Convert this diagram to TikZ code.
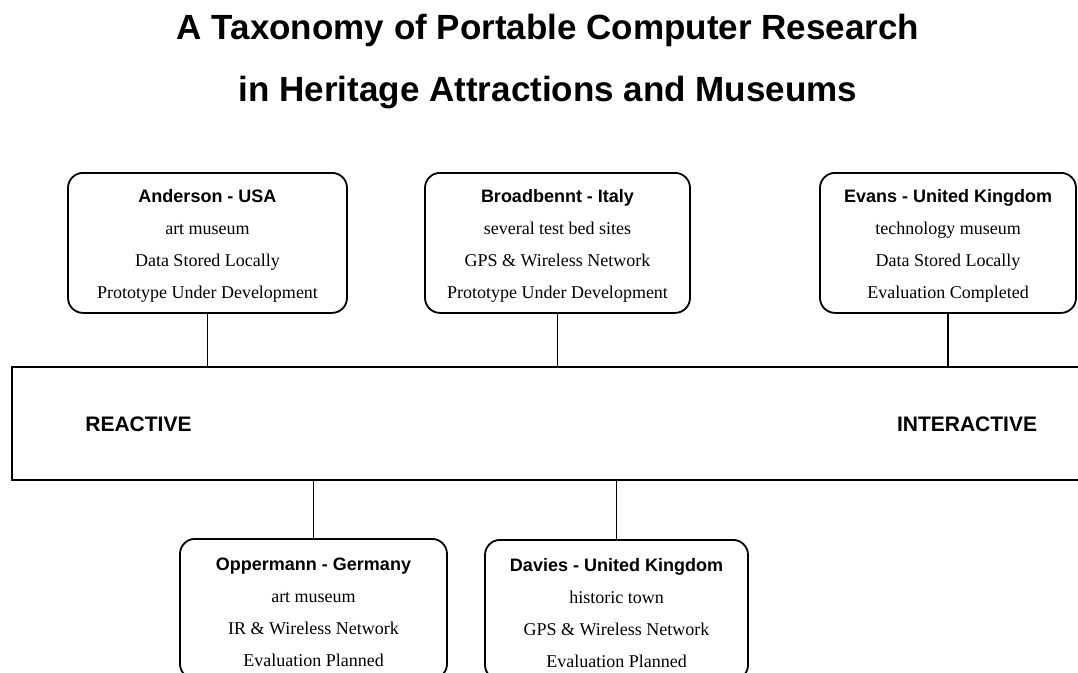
\documentclass[tikz,border=0pt]{standalone}
\usepackage{fontspec}
\setmainfont{Liberation Serif}
\setsansfont{Liberation Sans}
\newcommand{\sitehead}[1]{\rule{0pt}{20pt}{\sffamily\bfseries #1}}

\begin{document}
\begin{tikzpicture}[x=1pt,y=-1pt,
		site/.style={draw,rounded corners=15pt,line width=1.8pt,align=center,inner sep=0pt,minimum height=140pt,anchor=north,font=\fontsize{18}{32}\selectfont},
		heading/.style={anchor=base,inner sep=0pt,font=\fontsize{35}{40}\selectfont\sffamily\bfseries},
		pole/.style={anchor=base,inner sep=0pt,font=\fontsize{21}{25}\selectfont\sffamily\bfseries},
		link/.style={line width=1.8pt}]
			\useasboundingbox (0,0) rectangle (1078,672);
			\node[heading] (title1) at (548,39) {A Taxonomy of Portable Computer Research};
			\node[heading] (title2) at (548,101) {in Heritage Attractions and Museums};
	
			\node[draw,line width=1.8pt,minimum width=1100pt,minimum height=113pt,anchor=north west] (bar) at (11,366) {};
			\node[pole] (reactive) at (138.5,431) {REACTIVE};
			\node[pole] (interactive) at (967,431) {INTERACTIVE};
	
			\node[site,minimum width=279pt] (anderson) at (207.5,172) {\sitehead{Anderson - USA}\\art museum\\Data Stored Locally\\Prototype Under Development};
			\node[site,minimum width=265pt] (broadbennt) at (557.5,172) {\sitehead{Broadbennt - Italy}\\several test bed sites\\GPS \& Wireless Network\\Prototype Under Development};
			\node[site,minimum width=256pt] (evans) at (948,172) {\sitehead{Evans - United Kingdom}\\technology museum\\Data Stored Locally\\Evaluation Completed};
			\node[site,minimum width=267pt] (oppermann) at (313.5,538) {\sitehead{Oppermann - Germany}\\art museum\\IR \& Wireless Network\\Evaluation Planned};
			\node[site,minimum width=263pt] (davies) at (616.5,539) {\sitehead{Davies - United Kingdom}\\historic town\\GPS \& Wireless Network\\Evaluation Planned};
	
			\draw[link] (anderson.south) -- (anderson.south |- bar.north);
			\draw[link] (broadbennt.south) -- (broadbennt.south |- bar.north);
			\draw[link] (evans.south) -- (evans.south |- bar.north);
			\draw[link] (oppermann.north) -- (oppermann.north |- bar.south);
			\draw[link] (davies.north) -- (davies.north |- bar.south);
		\end{tikzpicture}
\end{document}
